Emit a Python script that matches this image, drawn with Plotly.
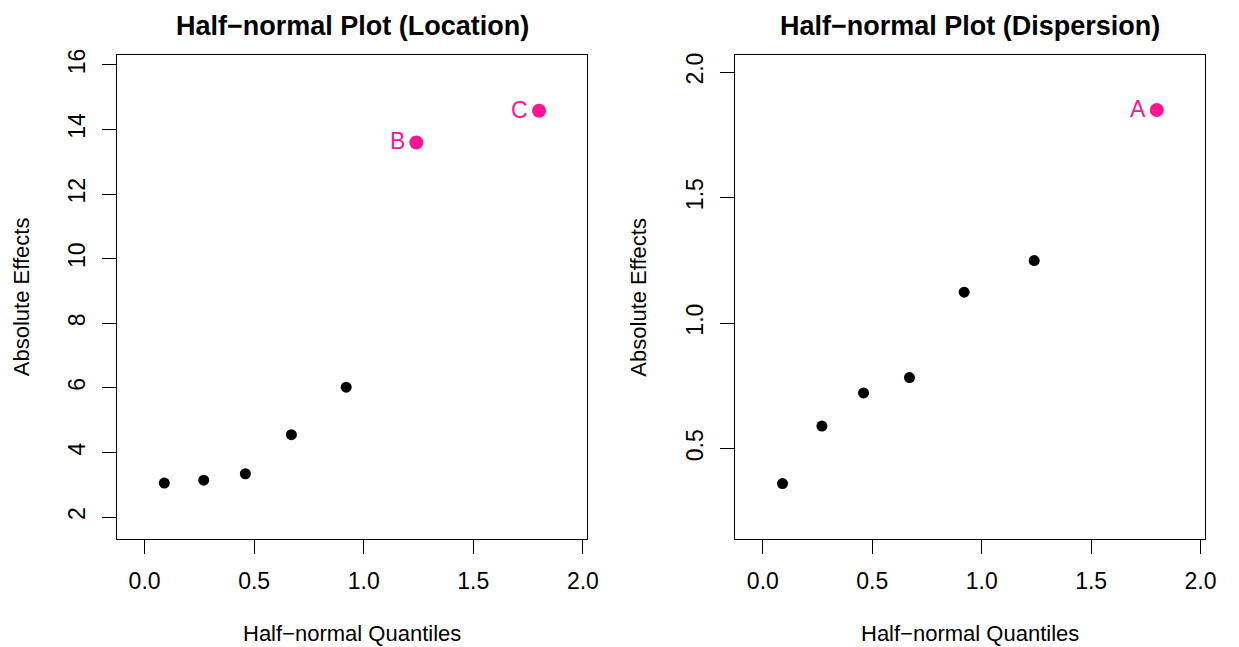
import plotly.graph_objects as go

# ---- data ----
loc_quantiles = [0.09, 0.27, 0.46, 0.67, 0.92, 1.24, 1.80]
loc_effects = [3.05, 3.14, 3.34, 4.55, 6.02, 13.60, 14.58]
loc_labels = ["", "", "", "", "", "B", "C"]
loc_active = [False, False, False, False, False, True, True]

disp_quantiles = [0.09, 0.27, 0.46, 0.67, 0.92, 1.24, 1.80]
disp_effects = [0.361, 0.59, 0.722, 0.783, 1.123, 1.249, 1.849]
disp_labels = ["", "", "", "", "", "", "A"]
disp_active = [False, False, False, False, False, False, True]

x_ticks = [0.0, 0.5, 1.0, 1.5, 2.0]
loc_y_ticks = [2, 4, 6, 8, 10, 12, 14, 16]
disp_y_ticks = [0.5, 1.0, 1.5, 2.0]

titles = ["Half\u2212normal Plot (Location)", "Half\u2212normal Plot (Dispersion)"]
x_title = "Half\u2212normal Quantiles"
y_title = "Absolute Effects"

PINK = "#FF1493"
FONT = "Liberation Sans, Arial, Helvetica, sans-serif"
W, H = 1239, 647


def px(v):
    return v / W


def py(v):
    return 1 - v / H


fig = go.Figure()

panels = [
    dict(q=loc_quantiles, e=loc_effects, lab=loc_labels, act=loc_active,
         xa="x", ya="y", yticks=loc_y_ticks, yfmt="d",
         xdom=[px(118), px(593)], xr=[-0.1265, 2.02], yr=[1.334, 16.30], ylx=22.5),
    dict(q=disp_quantiles, e=disp_effects, lab=disp_labels, act=disp_active,
         xa="x2", ya="y2", yticks=disp_y_ticks, yfmt=".1f",
         xdom=[px(742.3), px(1216.7)], xr=[-0.1267, 2.02], yr=[0.142, 2.067], ylx=645),
]

ydom = [py(537.5), py(49.7)]
annotations = []

for i, p in enumerate(panels):
    nx = [q for q, a in zip(p["q"], p["act"]) if not a]
    ny = [e for e, a in zip(p["e"], p["act"]) if not a]
    ax_ = [q for q, a in zip(p["q"], p["act"]) if a]
    ay_ = [e for e, a in zip(p["e"], p["act"]) if a]
    al_ = [l for l, a in zip(p["lab"], p["act"]) if a]
    fig.add_trace(go.Scatter(x=nx, y=ny, mode="markers", xaxis=p["xa"], yaxis=p["ya"],
                             marker=dict(color="black", size=11), showlegend=False,
                             hoverinfo="skip"))
    fig.add_trace(go.Scatter(x=ax_, y=ay_, mode="markers", xaxis=p["xa"], yaxis=p["ya"],
                             marker=dict(color=PINK, size=14), showlegend=False,
                             hoverinfo="skip"))
    for xv, yv, lv in zip(ax_, ay_, al_):
        annotations.append(dict(x=xv, y=yv, xref=p["xa"], yref=p["ya"], text=lv,
                                showarrow=False, xanchor="right", yanchor="middle",
                                xshift=-9, yshift=1,
                                font=dict(family=FONT, size=23, color=PINK)))
    suffix = "" if i == 0 else "2"
    axis_common = dict(showline=True, linecolor="black", linewidth=1, mirror=True,
                       ticks="outside", ticklen=14, tickcolor="black", tickwidth=1,
                       showgrid=False, zeroline=False,
                       tickfont=dict(family=FONT, size=23, color="black"))
    fig.layout["xaxis" + suffix] = dict(domain=p["xdom"], range=p["xr"], tickvals=x_ticks,
                                        tickformat=".1f", anchor="y" + suffix,
                                        ticklabelstandoff=8, **axis_common)
    fig.layout["yaxis" + suffix] = dict(domain=ydom, range=p["yr"], tickvals=p["yticks"],
                                        tickformat=p["yfmt"], anchor="x" + suffix,
                                        tickangle=-90, ticklabelstandoff=8, **axis_common)
    cx = (p["xdom"][0] + p["xdom"][1]) / 2
    annotations.append(dict(x=cx, y=py(20), xref="paper", yref="paper",
                            text="<b>" + titles[i] + "</b>",
                            showarrow=False, xanchor="center", yanchor="middle",
                            font=dict(family=FONT, size=27, color="black")))
    annotations.append(dict(x=cx, y=py(633), xref="paper", yref="paper", text=x_title,
                            showarrow=False, xanchor="center", yanchor="middle",
                            font=dict(family=FONT, size=22, color="black")))
    annotations.append(dict(x=px(p["ylx"]), y=(ydom[0] + ydom[1]) / 2, xref="paper", yref="paper",
                            text=y_title, textangle=-90,
                            showarrow=False, xanchor="center", yanchor="middle",
                            font=dict(family=FONT, size=22, color="black")))

fig.update_layout(width=W, height=H, margin=dict(l=0, r=0, t=0, b=0),
                  paper_bgcolor="white", plot_bgcolor="white",
                  annotations=annotations, font=dict(family=FONT))

fig.write_html("out.html",
               config={"displayModeBar": False},
               post_script="document.body.style.margin='0';document.body.style.overflow='hidden';")
